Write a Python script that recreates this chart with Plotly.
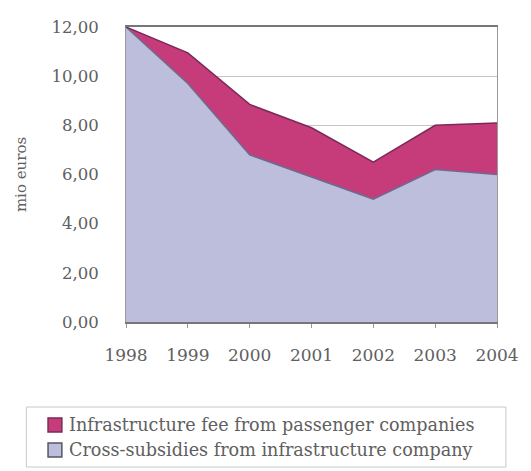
import plotly.graph_objects as go

# Data (mio euros)
years = [1998, 1999, 2000, 2001, 2002, 2003, 2004]
cross_subsidies = [12.0, 9.7, 6.8, 5.9, 5.0, 6.2, 6.0]
infrastructure_fee = [0.0, 1.25, 2.05, 2.0, 1.5, 1.8, 2.1]

series_names = [
    "Infrastructure fee from passenger companies",
    "Cross-subsidies from infrastructure company",
]
fee_fill = "#C63C7B"
fee_edge = "#7B2A58"
cross_fill = "#BCBEDC"
cross_edge = "#6E6A8E"

W, H = 531, 471
L, R, T, B = 126, 29, 27, 149
PW, PH = W - L - R, H - T - B


def px_x(x):
    return (x - L) / PW


def px_y(y):
    return (H - B - y) / PH


FONT = "DejaVu Serif"
TXT = "#606060"

fig = go.Figure()
fig.add_trace(go.Scatter(
    x=years, y=cross_subsidies, name=series_names[1], stackgroup="s",
    mode="lines", line=dict(color=cross_edge, width=1.5),
    fillcolor=cross_fill, showlegend=False,
))
fig.add_trace(go.Scatter(
    x=years, y=infrastructure_fee, name=series_names[0], stackgroup="s",
    mode="lines", line=dict(color=fee_edge, width=1.5),
    fillcolor=fee_fill, showlegend=False,
))

# Legend box drawn by hand
shapes = [dict(type="rect", xref="paper", yref="paper",
               x0=px_x(25), x1=px_x(511), y0=px_y(407), y1=px_y(467),
               line=dict(color="#c8c8c8", width=1), fillcolor="rgba(0,0,0,0)")]
annotations = []
rows = [(425, fee_fill, fee_edge, series_names[0]),
        (450, cross_fill, "#555566", series_names[1])]
for yc, fc, ec, label in rows:
    shapes.append(dict(type="rect", xref="paper", yref="paper",
                       x0=px_x(47), x1=px_x(61), y0=px_y(yc + 7), y1=px_y(yc - 7),
                       line=dict(color=ec, width=1.5), fillcolor=fc))
    annotations.append(dict(xref="paper", yref="paper", x=px_x(66), y=px_y(yc),
                            xanchor="left", yanchor="middle", showarrow=False,
                            text=label, font=dict(family=FONT, size=17.6, color=TXT)))

fig.update_layout(
    width=W, height=H,
    margin=dict(l=L, r=R, t=T, b=B, pad=0),
    paper_bgcolor="white", plot_bgcolor="white",
    separators=",.",
    showlegend=False,
    shapes=shapes,
    annotations=annotations,
    xaxis=dict(
        range=[1998, 2004], tickvals=years, ticktext=[str(y) for y in years],
        showgrid=False, showline=True, linecolor="#777777", linewidth=2,
        mirror=True, ticks="outside", ticklen=4, tickcolor="#999999",
        ticklabelstandoff=13,
        tickfont=dict(family=FONT, size=17, color=TXT), zeroline=False,
    ),
    yaxis=dict(
        range=[0, 12], dtick=2, tickformat=".2f",
        showgrid=True, gridcolor="#c4c4c4", gridwidth=1,
        showline=True, linecolor="#999999", linewidth=1, mirror=True,
        ticks="", ticklabelstandoff=23,
        tickfont=dict(family=FONT, size=16.5, color=TXT), zeroline=False,
        title=dict(text="mio euros", standoff=21,
                   font=dict(family=FONT, size=15, color=TXT)),
    ),
)

fig.write_html("out.html")
